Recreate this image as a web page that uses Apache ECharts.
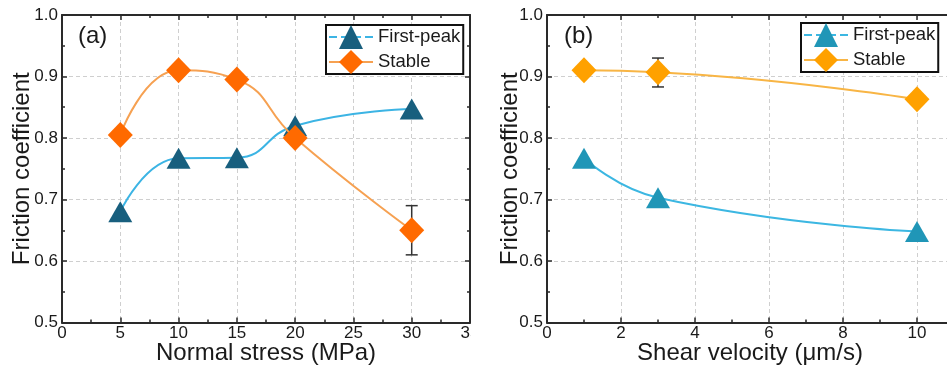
<!DOCTYPE html>
<html>
<head>
<meta charset="utf-8">
<script src="https://cdn.jsdelivr.net/npm/echarts@6/dist/echarts.min.js"></script>
<style>
  html, body { margin: 0; padding: 0; background: #fff; }
  .panel { position: absolute; top: 0; height: 369px; overflow: hidden; }
  #pa { left: 0; width: 471px; }
  #pb { left: 477px; width: 470px; }
</style>
</head>
<body>
<div id="pa" class="panel"></div>
<div id="pb" class="panel"></div>
<script>
// Panel (a): friction vs normal stress
const stressMPa = [5, 10, 15, 20, 30];
const firstPeakA = [0.680, 0.767, 0.768, 0.820, 0.847];
const stableA = [0.805, 0.910, 0.895, 0.800, 0.650];
const errA = [[30, 0.610, 0.690]];   // [x, low, high]

// Panel (b): friction vs shear velocity
const velocity = [1, 3, 10];
const firstPeakB = [0.767, 0.703, 0.648];
const stableB = [0.910, 0.907, 0.863];
const errB = [[3, 0.883, 0.930]];

const yTicks = { min: 0.5, max: 1.0, interval: 0.1 };

const FONT = '"Liberation Sans", Arial, sans-serif';
const AXIS_COLOR = '#2a2a2a';

function pairs(xs, ys) { return xs.map((x, i) => [x, ys[i]]); }

function errorBars(data) {
  return {
    type: 'custom',
    name: 'err',
    z: 1,
    data: data,
    renderItem: function (params, api) {
      const x = api.value(0);
      const lo = api.coord([x, api.value(1)]);
      const hi = api.coord([x, api.value(2)]);
      const w = 6;
      const st = { stroke: '#333', lineWidth: 1.5 };
      return {
        type: 'group',
        children: [
          { type: 'line', shape: { x1: lo[0], y1: lo[1], x2: hi[0], y2: hi[1] }, style: st },
          { type: 'line', shape: { x1: lo[0] - w, y1: lo[1], x2: lo[0] + w, y2: lo[1] }, style: st },
          { type: 'line', shape: { x1: hi[0] - w, y1: hi[1], x2: hi[0] + w, y2: hi[1] }, style: st }
        ]
      };
    }
  };
}

function buildOption(cfg) {
  const tickStyle = { inside: true, length: 5, lineStyle: { color: AXIS_COLOR, width: 1.5 } };
  const minorStyle = { show: true, splitNumber: 2, length: 3, lineStyle: { color: AXIS_COLOR, width: 1.5 } };
  const lineAxis = { show: true, onZero: false, lineStyle: { color: AXIS_COLOR, width: 2 } };
  const xBase = { type: 'value', min: cfg.xMin, max: cfg.xMax, interval: cfg.xInterval };
  const yBase = { type: 'value', min: yTicks.min, max: yTicks.max, interval: yTicks.interval };
  return {
    animation: false,
    textStyle: { fontFamily: FONT },
    grid: {
      left: cfg.gridLeft, top: 15, width: cfg.gridWidth, height: 307.5,
      containLabel: false, outerBoundsMode: 'none'
    },
    xAxis: [
      Object.assign({}, xBase, {
        position: 'bottom',
        name: cfg.xName,
        nameLocation: 'middle',
        nameGap: 19,
        nameMoveOverlap: false,
        nameTextStyle: { fontSize: 24, color: '#1a1a1a', verticalAlign: 'top', padding: cfg.xNamePad },
        axisLine: lineAxis,
        axisTick: tickStyle,
        minorTick: minorStyle,
        axisLabel: { fontSize: 17, color: '#1a1a1a', margin: 2, showMaxLabel: true },
        splitLine: { show: true, lineStyle: { color: '#cfcfcf', type: [4, 3], width: 1 } }
      }),
      Object.assign({}, xBase, {
        position: 'top',
        axisLine: lineAxis,
        axisTick: tickStyle,
        minorTick: minorStyle,
        axisLabel: { show: false },
        splitLine: { show: false }
      })
    ],
    yAxis: [
      Object.assign({}, yBase, {
        position: 'left',
        name: 'Friction coefficient',
        nameLocation: 'middle',
        nameGap: cfg.yNameGap,
        nameMoveOverlap: false,
        nameTextStyle: { fontSize: 24, color: '#1a1a1a' },
        axisLine: lineAxis,
        axisTick: tickStyle,
        minorTick: minorStyle,
        axisLabel: { fontSize: 17, color: '#1a1a1a', margin: 4, formatter: v => v.toFixed(1) },
        splitLine: { show: true, lineStyle: { color: '#cfcfcf', type: [4, 3], width: 1 } }
      }),
      Object.assign({}, yBase, {
        position: 'right',
        axisLine: lineAxis,
        axisTick: tickStyle,
        minorTick: minorStyle,
        axisLabel: { show: false },
        splitLine: { show: false }
      })
    ],
    legend: {
      orient: 'vertical',
      left: cfg.legendLeft,
      top: cfg.legendTop,
      padding: [0, 3, 0, 2],
      itemWidth: 44,
      itemHeight: 30,
      itemGap: 1,
      borderColor: '#111',
      borderWidth: 2,
      backgroundColor: '#fff',
      textStyle: { fontSize: 18.5, color: '#1a1a1a', fontFamily: FONT },
      data: [
        { name: 'First-peak', lineStyle: { type: [8, 4] } },
        { name: 'Stable' }
      ]
    },
    graphic: [{
      type: 'text',
      x: cfg.labelX,
      y: 36,
      style: { text: cfg.label, font: '24px ' + FONT, fill: '#1a1a1a', verticalAlign: 'middle' }
    }],
    series: [
      {
        name: 'First-peak',
        type: 'line',
        smooth: true,
        z: 2,
        data: pairs(cfg.xs, cfg.firstPeak),
        symbol: 'triangle',
        symbolSize: [24, 21],
        itemStyle: { color: cfg.triColor },
        lineStyle: { color: cfg.triLine, width: 2 }
      },
      {
        name: 'Stable',
        type: 'line',
        smooth: true,
        z: 3,
        data: pairs(cfg.xs, cfg.stable),
        symbol: 'diamond',
        symbolSize: [25, 26],
        itemStyle: { color: cfg.diaColor },
        lineStyle: { color: cfg.diaLine, width: 2 }
      },
      errorBars(cfg.err)
    ]
  };
}

const chartA = echarts.init(document.getElementById('pa'), null, { renderer: 'canvas' });
chartA.setOption(buildOption({
  xs: stressMPa, firstPeak: firstPeakA, stable: stableA, err: errA,
  xMin: 0, xMax: 35, xInterval: 5,
  gridLeft: 62, gridWidth: 408,
  xName: 'Normal stress (MPa)', xNamePad: [0, 0, 0, 0],
  yNameGap: 28,
  legendLeft: 326, legendTop: 25,
  label: '(a)', labelX: 78,
  triColor: '#185f7e', triLine: '#3cb4e4',
  diaColor: '#ff6a00', diaLine: '#f6a152'
}));

const chartB = echarts.init(document.getElementById('pb'), null, { renderer: 'canvas' });
chartB.setOption(buildOption({
  xs: velocity, firstPeak: firstPeakB, stable: stableB, err: errB,
  xMin: 0, xMax: 12, xInterval: 2,
  gridLeft: 70, gridWidth: 444,
  xName: 'Shear velocity (μm/s)', xNamePad: [0, 38, 0, 0],
  yNameGap: 25,
  legendLeft: 324, legendTop: 23,
  label: '(b)', labelX: 87,
  triColor: '#2096b7', triLine: '#3cb7e2',
  diaColor: '#ffa100', diaLine: '#f8b545'
}));
</script>
</body>
</html>
